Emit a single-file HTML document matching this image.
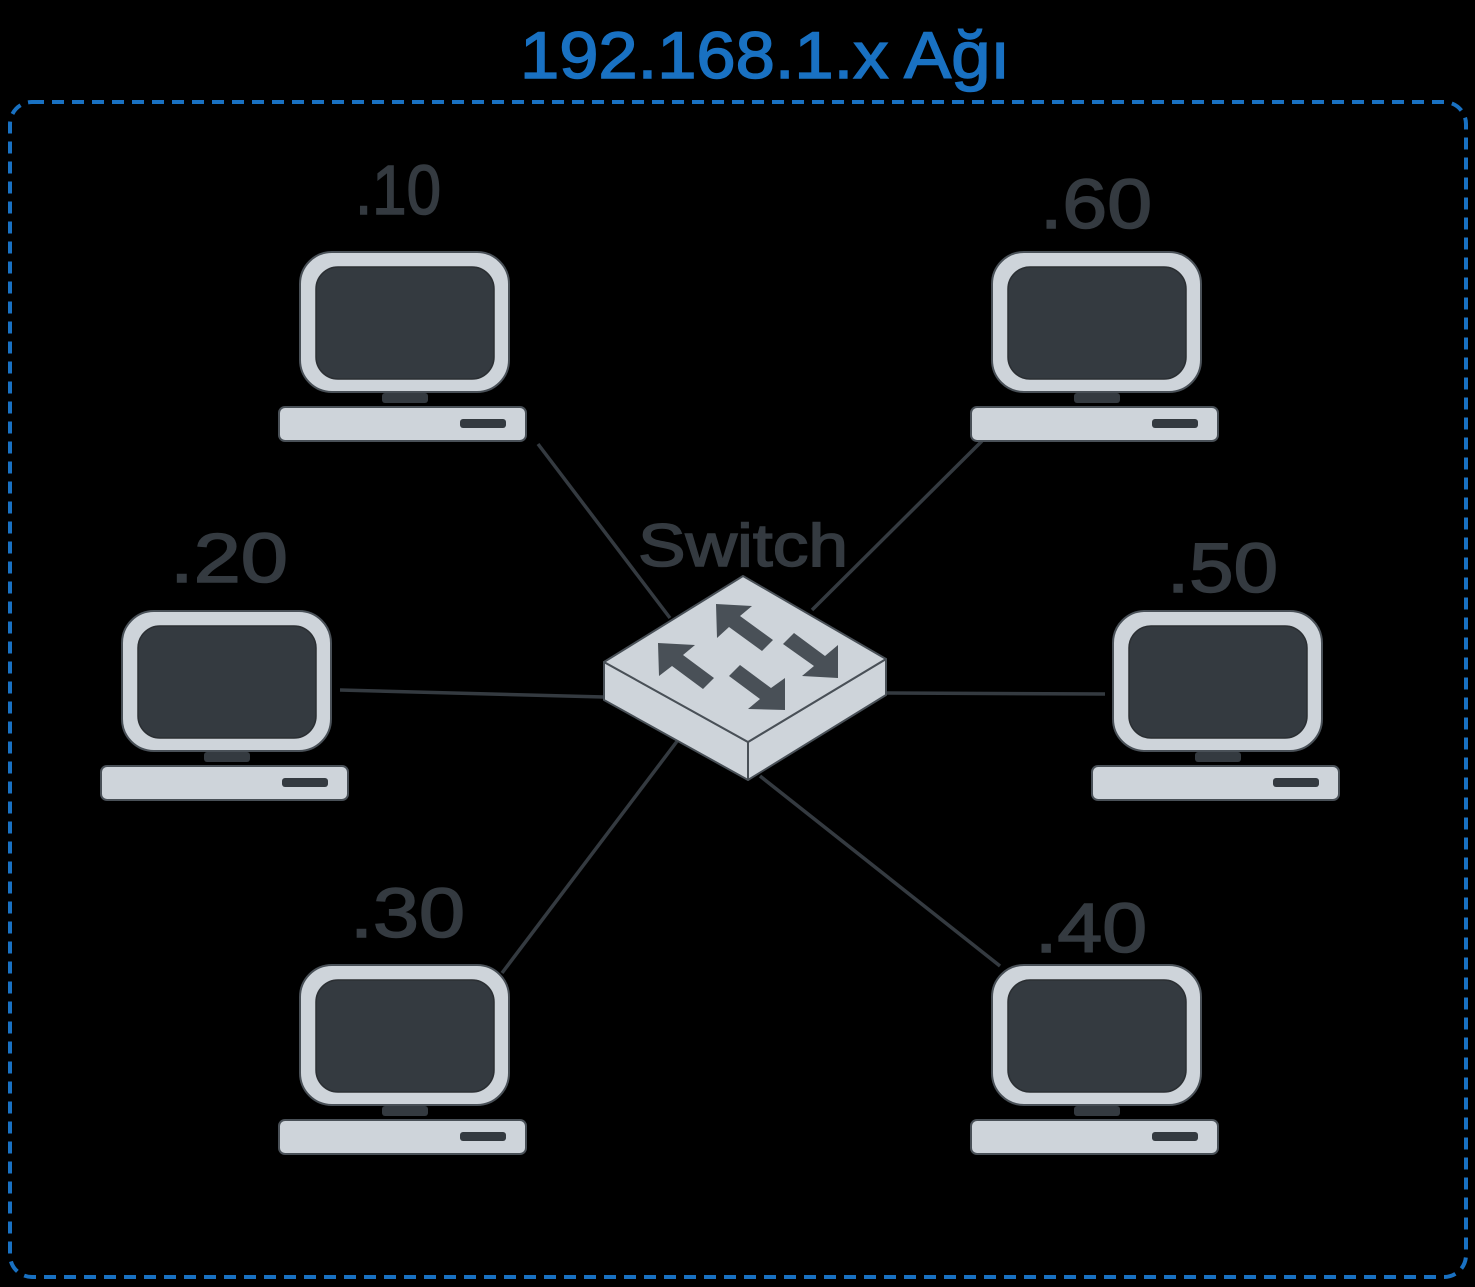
<!DOCTYPE html>
<html><head><meta charset="utf-8"><style>
html,body{margin:0;padding:0;background:#000;}
svg{display:block;}
text{font-family:"Liberation Sans",sans-serif;}
</style></head><body>
<svg width="1475" height="1287" viewBox="0 0 1475 1287" xmlns="http://www.w3.org/2000/svg">
<defs>
<g id="pc">
<rect x="300" y="252" width="209" height="140" rx="32" fill="#ced4da" stroke="#495057" stroke-width="2"/>
<rect x="316" y="267" width="178" height="112" rx="22" fill="#343a40" stroke="#2b2f33" stroke-width="1.5"/>
<rect x="382" y="393" width="46" height="10" rx="3" fill="#343a40"/>
<rect x="279" y="407" width="247" height="34" rx="6" fill="#ced4da" stroke="#495057" stroke-width="2"/>
<rect x="460" y="419" width="46" height="9" rx="3" fill="#343a40"/>
</g>
</defs>
<rect x="10" y="102" width="1456" height="1175" rx="22" fill="none" stroke="#1971c2" stroke-width="4" stroke-dasharray="12 8"/>
<text x="520" y="78" font-size="66" fill="#1971c2" stroke="#1971c2" stroke-width="1.5" textLength="490" lengthAdjust="spacingAndGlyphs">192.168.1.x  Ağı</text>
<g stroke="#343a40" stroke-width="3.5" fill="none">
<line x1="538" y1="444" x2="670" y2="618"/>
<line x1="982" y1="441" x2="812" y2="610"/>
<line x1="340" y1="690" x2="604" y2="697"/>
<line x1="886" y1="693" x2="1105" y2="694"/>
<line x1="502" y1="973" x2="678" y2="740"/>
<line x1="760" y1="776" x2="1000" y2="966"/>
</g>
<use href="#pc"/>
<use href="#pc" transform="translate(692,0)"/>
<use href="#pc" transform="translate(-178,359)"/>
<use href="#pc" transform="translate(813,359)"/>
<use href="#pc" transform="translate(0,713)"/>
<use href="#pc" transform="translate(692,713)"/>
<g fill="#343a40" stroke="#343a40" stroke-width="1.5" font-size="70">
<text x="355" y="214" textLength="86" lengthAdjust="spacingAndGlyphs">.10</text>
<text x="1040" y="228" textLength="112" lengthAdjust="spacingAndGlyphs">.60</text>
<text x="170" y="582" textLength="118" lengthAdjust="spacingAndGlyphs">.20</text>
<text x="1167" y="592" textLength="111" lengthAdjust="spacingAndGlyphs">.50</text>
<text x="350" y="937" textLength="115" lengthAdjust="spacingAndGlyphs">.30</text>
<text x="1035" y="952" textLength="112" lengthAdjust="spacingAndGlyphs">.40</text>
<text x="638" y="566" font-size="60" textLength="210" lengthAdjust="spacingAndGlyphs">Switch</text>
</g>
<g stroke="#495057" stroke-width="2" fill="#ced4da" stroke-linejoin="round">
<polygon points="604,662 748,742 748,780 604,700"/>
<polygon points="748,742 886,659 886,695 748,780"/>
<polygon points="743,576 604,662 748,742 886,659"/>
</g>
<g fill="#495057">
<polygon points="716,604 752,606 740,616 773,640 762,651 729,627 717,638"/>
<polygon points="658,643 695,645 683,655 714,678 703,689 672,666 659,676"/>
<polygon points="838,678 802,676 814,666 783,644 794,633 825,656 838,645"/>
<polygon points="785,710 748,709 760,699 729,676 740,665 771,688 785,678"/>
</g>
</svg>
</body></html>
